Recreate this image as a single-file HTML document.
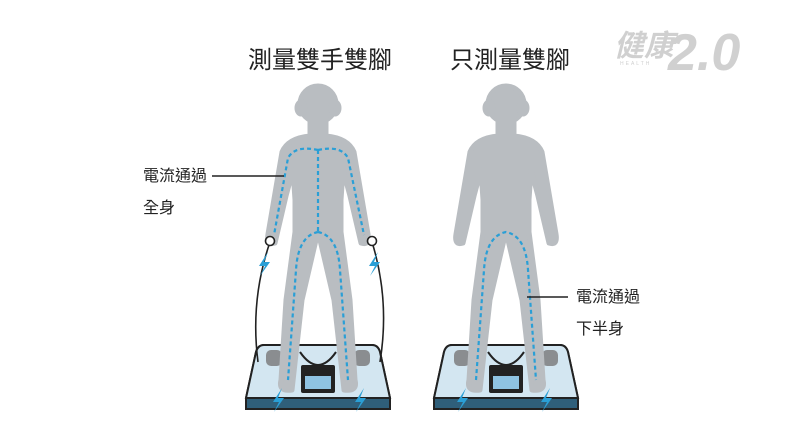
<!DOCTYPE html>
<html><head><meta charset="utf-8"><style>
body{margin:0;background:#fff;}
svg{display:block}
text{font-family:"Liberation Sans","Noto Sans CJK TC",sans-serif;}
</style></head><body>
<svg width="792" height="445" viewBox="0 0 792 445">
<defs>
<g id="scale">
 <path d="M-54,345 L54,345 Q60,345 62,352 L72,398 L72,409 L-72,409 L-72,398 L-62,352 Q-60,345 -54,345Z" fill="#2f5f7a" stroke="#222" stroke-width="2"/>
 <path d="M-54,345 L54,345 Q60,345 62,352 L72,398 L-72,398 L-62,352 Q-60,345 -54,345Z" fill="#d3e6f1" stroke="#222" stroke-width="2"/>
 <path d="M-18,352 Q0,378 18,352" fill="none" stroke="#222" stroke-width="2"/>
 <rect x="-17" y="365" width="34" height="28" rx="2" fill="#222"/>
 <rect x="-13" y="376" width="26" height="13" fill="#8fc3e2"/>
 <rect x="-52" y="350" width="16" height="16" rx="5" fill="#8a8d90"/>
 <rect x="36" y="350" width="16" height="16" rx="5" fill="#8a8d90"/>
</g>
<g id="body" fill="#b9bdc1" stroke="#b9bdc1" stroke-width="5" stroke-linejoin="round">
 <circle cx="0" cy="104" r="18"/>
 <ellipse cx="-17" cy="108" rx="4" ry="6"/>
 <ellipse cx="17" cy="108" rx="4" ry="6"/>
 <path d="M-8,118 L-8,136 Q-30,138 -36,152 L-50,234 Q-52,246 -43,243 L-32,196 L-25,170 L-23,200 L-23,232 L-32,300 L-37,380 Q-40,392 -26,390 L-16,300 L-2,240 L2,240 L16,300 L26,390 Q40,392 37,380 L32,300 L23,232 L23,200 L25,170 L32,196 L43,243 Q52,246 50,234 L36,152 Q30,138 8,136 L8,118Z"/>
</g>
<path id="bolt" d="M4,-12 L-5,2 L1,2 L-4,12 L6,-2 L0,-2 Z" fill="#2a9fd6"/>
</defs>

<text x="248" y="68" font-size="24" fill="#222">測量雙手雙腳</text>
<text x="450" y="68" font-size="24" fill="#222">只測量雙腳</text>

<!-- left -->
<use href="#scale" x="318"/>
<use href="#body" x="318"/>
<path d="M270,242 Q250,300 258,362" fill="none" stroke="#222" stroke-width="1.6"/>
<path d="M372,242 Q390,300 380,362" fill="none" stroke="#222" stroke-width="1.6"/>
<circle cx="270" cy="241" r="4.5" fill="#fff" stroke="#222" stroke-width="1.6"/>
<circle cx="372" cy="241" r="4.5" fill="#fff" stroke="#222" stroke-width="1.6"/>
<g fill="none" stroke="#2a9fd6" stroke-width="2.2" stroke-dasharray="4 3">
 <path d="M318,150 L318,232"/>
 <path d="M318,150 Q295,145 288,158 L274,235"/>
 <path d="M318,150 Q341,145 348,158 L364,235"/>
 <path d="M318,232 Q298,236 296,270 L288,380"/>
 <path d="M318,232 Q338,236 340,270 L348,380"/>
</g>
<use href="#bolt" x="264" y="264"/>
<use href="#bolt" x="374" y="264"/>
<use href="#bolt" x="278" y="400"/>
<use href="#bolt" x="360" y="400"/>
<text x="143" y="181" font-size="16" fill="#222">電流通過</text>
<text x="143" y="213" font-size="16" fill="#222">全身</text>
<line x1="212" y1="176" x2="284" y2="176" stroke="#222" stroke-width="1.6"/>

<!-- right -->
<use href="#scale" x="506"/>
<use href="#body" x="506"/>
<g fill="none" stroke="#2a9fd6" stroke-width="2.2" stroke-dasharray="4 3">
 <path d="M476,380 L484,270 Q486,236 506,232 Q526,236 528,270 L536,380"/>
</g>
<use href="#bolt" x="462" y="400"/>
<use href="#bolt" x="546" y="400"/>
<line x1="527" y1="297" x2="568" y2="297" stroke="#222" stroke-width="1.6"/>
<text x="576" y="302" font-size="16" fill="#222">電流通過</text>
<text x="576" y="334" font-size="16" fill="#222">下半身</text>

<!-- logo -->
<text x="614" y="56" font-size="30" font-weight="bold" fill="#d0d0d0" font-style="italic">健康</text>
<text x="668" y="70" font-size="52" font-weight="bold" fill="#d0d0d0" font-style="italic" font-family="Liberation Serif">2.0</text>
<text x="620" y="65" font-size="5" fill="#d0d0d0" letter-spacing="2">HEALTH</text>
</svg>
</body></html>
